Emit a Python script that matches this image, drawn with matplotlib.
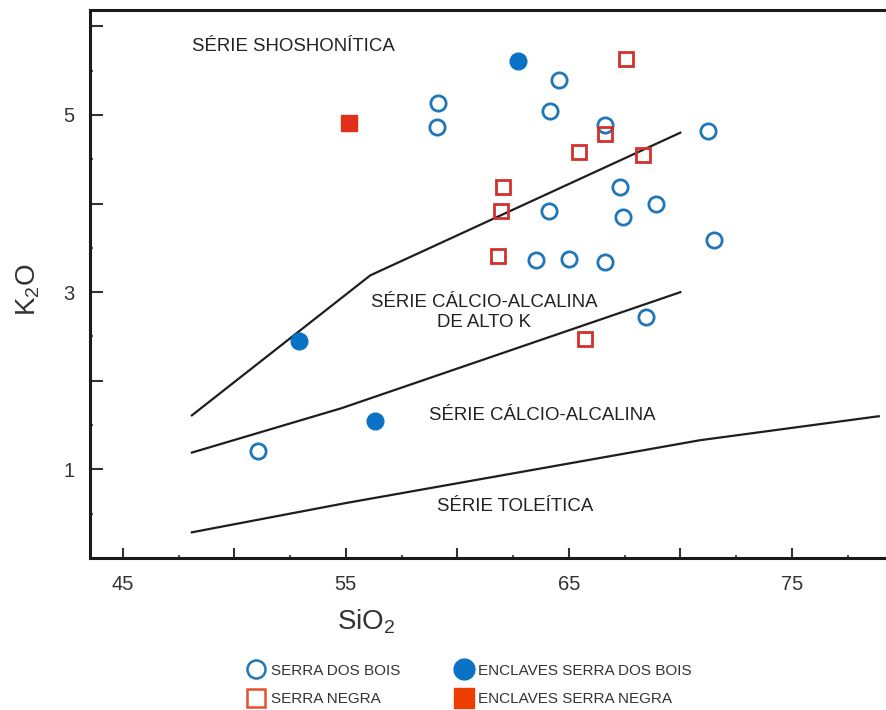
import matplotlib
matplotlib.use("Agg")
import matplotlib.pyplot as plt
from matplotlib.lines import Line2D

plt.rcParams['font.family'] = ['Liberation Sans', 'DejaVu Sans']
plt.rcParams['mathtext.default'] = 'regular'

# Serra dos Bois (open circles)
sdb_si = [64.57, 59.14, 59.10, 64.15, 66.63, 71.26, 67.30, 64.13, 67.45, 68.90,
          71.52, 63.53, 65.01, 66.64, 68.45, 51.08]
sdb_k = [5.40, 5.14, 4.86, 5.04, 4.89, 4.82, 4.19, 3.92, 3.85, 4.00,
         3.59, 3.36, 3.38, 3.34, 2.72, 1.21]

# Enclaves Serra dos Bois (filled circles)
esdb_si = [62.74, 52.91, 56.31]
esdb_k = [5.61, 2.45, 1.55]

# Serra Negra (open squares)
sn_si = [67.56, 66.63, 65.46, 68.32, 62.04, 61.95, 61.82, 65.73]
sn_k = [5.63, 4.79, 4.58, 4.55, 4.19, 3.92, 3.41, 2.47]

# Enclaves Serra Negra (filled square)
esn_si = [55.15]
esn_k = [4.91]

# series boundaries
shosh_x = [48.1, 56.1, 70.0]
shosh_y = [1.61, 3.19, 4.80]
highk_x = [48.1, 54.8, 70.0]
highk_y = [1.19, 1.69, 3.00]
thol_x = [48.1, 55.0, 70.9, 78.9]
thol_y = [0.29, 0.62, 1.33, 1.60]

blue = '#1f76b8'
blue_fill = '#0a72c6'
red = '#d2302c'
red_fill = '#e0301a'

fig = plt.figure(figsize=(8.87, 7.10), dpi=100)
ax = fig.add_axes([90 / 887, 152 / 710, 795 / 887, 548 / 710])

for xs, ys in [(shosh_x, shosh_y), (highk_x, highk_y), (thol_x, thol_y)]:
    ax.plot(xs, ys, color='#1e1e1e', lw=1.6, zorder=2)

ax.plot(sdb_si, sdb_k, 'o', ms=11, mfc='none', mec=blue, mew=2.0, ls='none', zorder=3)
ax.plot(sn_si, sn_k, 's', ms=10.5, mfc='none', mec=red, mew=2.0, ls='none', zorder=3)
ax.plot(esdb_si, esdb_k, 'o', ms=12, mfc=blue_fill, mec=blue_fill, ls='none', zorder=3)
ax.plot(esn_si, esn_k, 's', ms=11, mfc=red_fill, mec=red_fill, ls='none', zorder=3)

txt = dict(fontsize=13.4, color='#222222', ha='center', va='center')
ax.text(52.64, 5.77, 'SÉRIE SHOSHONÍTICA', **txt)
ax.text(61.19, 2.77, 'SÉRIE CÁLCIO-ALCALINA\nDE ALTO K', linespacing=1.2, **txt)
ax.text(63.83, 1.61, 'SÉRIE CÁLCIO-ALCALINA', **txt)
ax.text(62.59, 0.58, 'SÉRIE TOLEÍTICA', **txt)

ax.set_xlim(43.53, 79.18)
ax.set_ylim(0, 6.185)

ax.spines['right'].set_visible(False)
for s in ['left', 'bottom', 'top']:
    ax.spines[s].set_linewidth(2.2)
    ax.spines[s].set_color('#1a1a1a')

xt = [45, 50, 55, 60, 65, 70, 75]
ax.set_xticks(xt)
ax.set_xticklabels([str(v) if v % 10 == 5 else '' for v in xt])
ax.set_xticks([47.5, 52.5, 57.5, 62.5, 67.5, 72.5, 77.5], minor=True)
yt = [1, 2, 3, 4, 5, 6]
ax.set_yticks(yt)
ax.set_yticklabels([str(v) if v % 2 == 1 else '' for v in yt])
ax.set_yticks([0.5, 1.5, 2.5, 3.5, 4.5, 5.5], minor=True)

ax.tick_params(axis='both', which='major', direction='in', width=1.5, color='#333333',
               labelsize=14.5, labelcolor='#333333')
ax.tick_params(axis='x', which='major', length=7, pad=12)
ax.tick_params(axis='y', which='major', length=9.5, pad=11)
ax.tick_params(which='minor', direction='in', length=2, width=1.5, color='#555555')
ax.tick_params(top=False, right=False, which='both')

fig.text(366 / 887, 1 - 622 / 710, 'SiO$_2$', fontsize=20, color='#333333',
         ha='center', va='center')
fig.text(28 / 887, 1 - 290 / 710, 'K$_2$O', fontsize=20, color='#333333',
         ha='center', va='center', rotation=90)

handles = [
    Line2D([], [], marker='o', ls='none', ms=13, mfc='none', mec=blue, mew=1.8),
    Line2D([], [], marker='s', ls='none', ms=13, mfc='none', mec='#e8502a', mew=1.8),
    Line2D([], [], marker='o', ls='none', ms=15, mfc=blue_fill, mec=blue_fill),
    Line2D([], [], marker='s', ls='none', ms=14, mfc='#ee3d00', mec='#ee3d00'),
]
labels = ['SERRA DOS BOIS', 'SERRA NEGRA', 'ENCLAVES SERRA DOS BOIS', 'ENCLAVES SERRA NEGRA']
fig.legend(handles, labels, ncol=2, loc='center', bbox_to_anchor=(471 / 887, 1 - 685 / 710),
           frameon=False, fontsize=11, handlelength=0.8, handletextpad=0.55,
           columnspacing=3.75, labelspacing=0.95, labelcolor='#333333')

fig.savefig('out.png', dpi=100)
